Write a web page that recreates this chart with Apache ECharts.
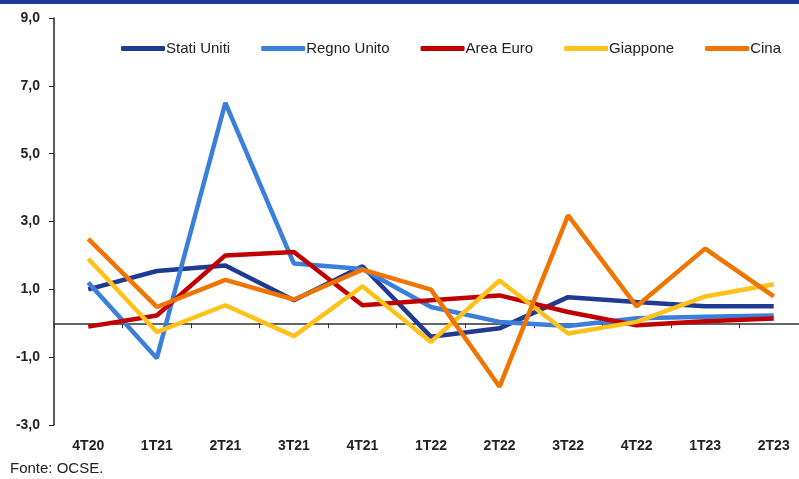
<!DOCTYPE html>
<html>
<head>
<meta charset="utf-8">
<script src="https://cdn.jsdelivr.net/npm/echarts@6/dist/echarts.min.js"></script>
<style>
  html, body { margin: 0; padding: 0; background: #fff; }
  #chart { width: 799px; height: 479px; }
</style>
</head>
<body>
<div id="chart"></div>
<script>
// trimestri
const categories = ["4T20", "1T21", "2T21", "3T21", "4T21", "1T22", "2T22", "3T22", "4T22", "1T23", "2T23"];
// valori (%)
const statiUniti = [1.0, 1.54, 1.7, 0.68, 1.68, -0.4, -0.15, 0.77, 0.63, 0.5, 0.5];
const regnoUnito = [1.2, -1.03, 6.5, 1.76, 1.6, 0.48, 0.04, -0.08, 0.15, 0.19, 0.23];
const areaEuro = [-0.1, 0.23, 2.0, 2.1, 0.53, 0.68, 0.82, 0.33, -0.06, 0.06, 0.14];
const giappone = [1.9, -0.26, 0.53, -0.38, 1.09, -0.55, 1.26, -0.3, 0.04, 0.79, 1.15];
const cina = [2.49, 0.48, 1.28, 0.7, 1.58, 0.99, -1.87, 3.18, 0.5, 2.2, 0.79];
const yTicks = { min: -3, max: 9, step: 2 };

const chart = echarts.init(document.getElementById("chart"));
const font = "Liberation Sans";

function linea(name, data, color) {
  return {
    name: name,
    type: "line",
    data: data,
    symbol: "none",
    lineStyle: { width: 4.5, color: color },
    itemStyle: { color: color },
    animation: false,
  };
}

const option = {
  backgroundColor: "#fff",
  graphic: [
    {
      type: "rect",
      left: 0,
      top: 0,
      shape: { width: 799, height: 4 },
      style: { fill: "#1f3a93" },
    },
    {
      type: "text",
      left: 10,
      top: 461,
      style: { text: "Fonte: OCSE.", fill: "#222", font: "15px " + font },
    },
  ],
  legend: {
    top: 36,
    left: 116,
    itemWidth: 44,
    itemHeight: 5,
    itemGap: 31,
    icon: "roundRect",
    textStyle: { fontFamily: font, fontSize: 15, color: "#222", padding: [0, 0, 0, -4] },
  },
  grid: { left: 54, top: 18, width: 754, bottom: 54, outerBoundsMode: "none" },
  xAxis: [
    {
      type: "category",
      data: categories,
      axisLine: { onZero: true, lineStyle: { color: "#333", width: 1.5 } },
      axisTick: { show: true, length: 5, lineStyle: { color: "#333" } },
      axisLabel: { show: false },
    },
    {
      type: "category",
      data: categories,
      position: "bottom",
      axisLine: { show: false, onZero: false },
      axisTick: { show: false },
      axisLabel: { margin: 14, fontFamily: font, fontSize: 14, fontWeight: "bold", color: "#222" },
    },
  ],
  yAxis: {
    type: "value",
    min: yTicks.min,
    max: yTicks.max,
    interval: yTicks.step,
    axisLine: { show: true, lineStyle: { color: "#222", width: 1.5 } },
    axisTick: { show: true, length: 5, lineStyle: { color: "#222" } },
    splitLine: { show: false },
    axisLabel: {
      margin: 14,
      fontFamily: font,
      fontSize: 14,
      fontWeight: "bold",
      color: "#222",
      formatter: (v) => v.toFixed(1).replace(".", ","),
    },
  },
  series: [
    linea("Stati Uniti", statiUniti, "#1f3a93"),
    linea("Regno Unito", regnoUnito, "#3a7fdc"),
    linea("Area Euro", areaEuro, "#c00000"),
    linea("Giappone", giappone, "#ffc21a"),
    linea("Cina", cina, "#f07400"),
  ],
};
chart.setOption(option);
</script>
</body>
</html>
